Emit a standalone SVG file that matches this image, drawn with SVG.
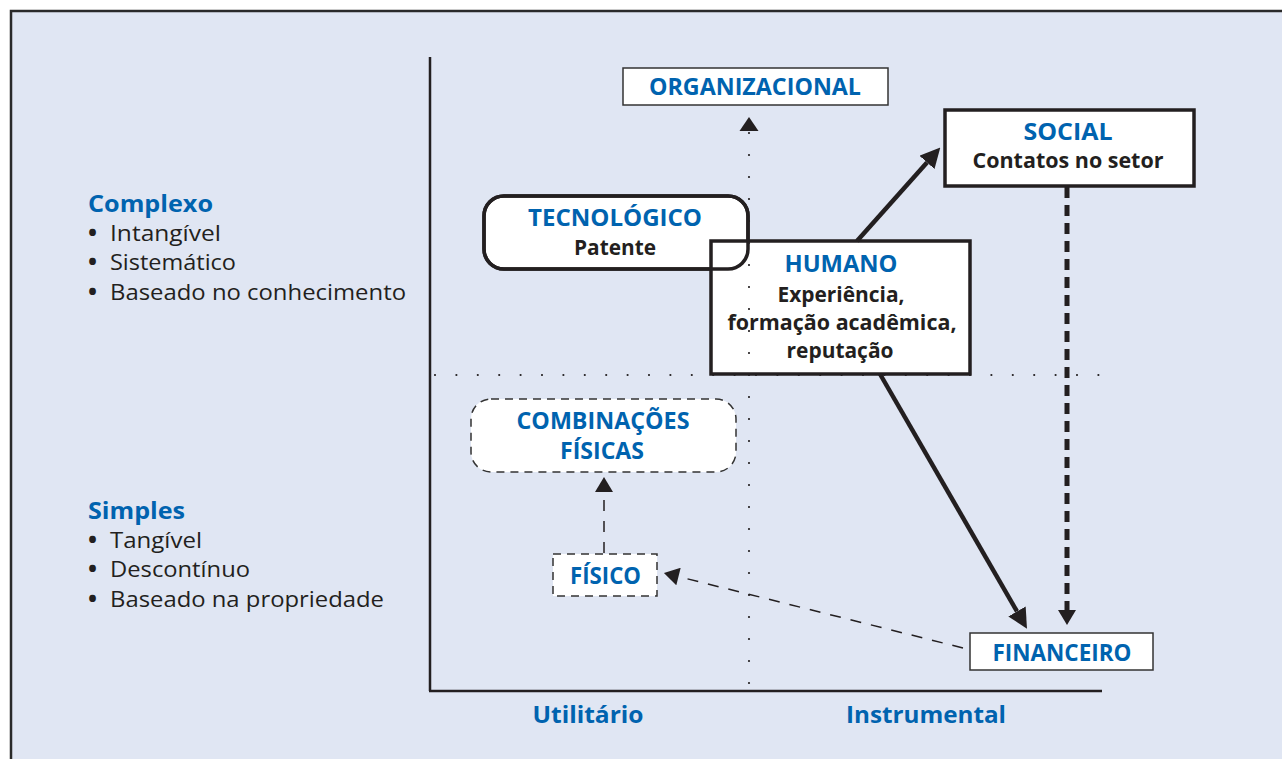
<svg xmlns="http://www.w3.org/2000/svg" width="1282" height="759" viewBox="0 0 1282 759">
<style>
text{font-family:"Open Sans","Liberation Sans",sans-serif;}
.h{font-weight:700;fill:#0063AF;font-size:22.5px;}
.b{font-weight:700;fill:#231F20;font-size:22px;}
.r{font-weight:400;fill:#231F20;font-size:22px;}
.c{text-anchor:middle;}
.bl{font-weight:700;font-size:24px;}
.thin{fill:#fff;stroke:#333;stroke-width:1.5;}
.thick{fill:#fff;stroke:#231F20;stroke-width:3.5;}
.dbox{fill:#fff;stroke:#333;stroke-width:1.5;stroke-dasharray:8 6;}
.dot{stroke:#231F20;stroke-width:2.2;stroke-linecap:round;fill:none;}
</style>
<defs>
<marker id="ah" markerUnits="userSpaceOnUse" markerWidth="20" markerHeight="20" viewBox="0 0 18 18" refX="0" refY="9" orient="auto">
<path d="M0,0 L18,9 L0,18 z" fill="#231F20"/>
</marker>
<marker id="ahs" markerUnits="userSpaceOnUse" markerWidth="16" markerHeight="18" viewBox="0 0 15 18" refX="0" refY="9" orient="auto">
<path d="M0,0 L15,9 L0,18 z" fill="#231F20"/>
</marker>
</defs>
<rect x="11" y="11" width="1300" height="800" fill="#E0E6F3" stroke="#2a2a2a" stroke-width="2.5"/>

<g id="labels">
<text class="h" x="88" y="212" textLength="125" lengthAdjust="spacingAndGlyphs">Complexo</text>
<text class="r" y="241"><tspan class="bl" x="88">•</tspan><tspan x="110" textLength="111" lengthAdjust="spacingAndGlyphs">Intangível</tspan></text>
<text class="r" y="270"><tspan class="bl" x="88">•</tspan><tspan x="110" textLength="126" lengthAdjust="spacingAndGlyphs">Sistemático</tspan></text>
<text class="r" y="300"><tspan class="bl" x="88">•</tspan><tspan x="110" textLength="296" lengthAdjust="spacingAndGlyphs">Baseado no conhecimento</tspan></text>
<text class="h" x="88" y="519" textLength="97" lengthAdjust="spacingAndGlyphs">Simples</text>
<text class="r" y="548"><tspan class="bl" x="88">•</tspan><tspan x="110" textLength="92" lengthAdjust="spacingAndGlyphs">Tangível</tspan></text>
<text class="r" y="577"><tspan class="bl" x="88">•</tspan><tspan x="110" textLength="140" lengthAdjust="spacingAndGlyphs">Descontínuo</tspan></text>
<text class="r" y="607"><tspan class="bl" x="88">•</tspan><tspan x="110" textLength="274" lengthAdjust="spacingAndGlyphs">Baseado na propriedade</tspan></text>
<text class="h c" x="588" y="723" textLength="111" lengthAdjust="spacingAndGlyphs">Utilitário</text>
<text class="h c" x="926" y="723" textLength="160" lengthAdjust="spacingAndGlyphs">Instrumental</text>
</g>

<g id="axes">
<line x1="430" y1="57" x2="430" y2="691" stroke="#231F20" stroke-width="2.5"/>
<line x1="429" y1="691" x2="1102" y2="691" stroke="#231F20" stroke-width="2.5"/>
</g>

<g id="organizacional">
<rect class="thin" x="623" y="68" width="265" height="37"/>
<text class="h c" x="755" y="95" textLength="212" lengthAdjust="spacingAndGlyphs">ORGANIZACIONAL</text>
</g>

<g id="tecnologico">
<rect class="thick" x="484" y="196" width="264" height="73" rx="20"/>
</g>

<g id="humano">
<rect class="thick" x="711" y="241" width="259" height="133"/>
</g>

<g id="social">
<rect class="thick" x="945" y="110" width="249" height="76"/>
<text class="h c" x="1068" y="140" textLength="89" lengthAdjust="spacingAndGlyphs">SOCIAL</text>
<text class="b c" x="1068" y="168" textLength="191" lengthAdjust="spacingAndGlyphs">Contatos no setor</text>
</g>

<g id="combinacoes">
<rect class="dbox" x="471" y="399" width="265" height="73" rx="20" stroke-dasharray="10 6"/>
<text class="h c" x="603" y="429" textLength="173" lengthAdjust="spacingAndGlyphs">COMBINAÇÕES</text>
<text class="h c" x="602" y="459" textLength="84" lengthAdjust="spacingAndGlyphs">FÍSICAS</text>
</g>

<g id="fisico">
<rect class="dbox" x="553" y="554" width="104" height="42"/>
<text class="h c" x="605.5" y="584" textLength="71" lengthAdjust="spacingAndGlyphs">FÍSICO</text>
</g>

<g id="financeiro">
<rect class="thin" x="970" y="633" width="183" height="37"/>
<text class="h c" x="1062" y="661" textLength="139" lengthAdjust="spacingAndGlyphs">FINANCEIRO</text>
</g>

<g id="connectors">
<line class="dot" x1="749" y1="133" x2="749" y2="690" stroke-dasharray="0 22"/>
<path d="M739.5,131 L749,117 L758.5,131 z" fill="#231F20"/>
<line class="dot" x1="435" y1="375" x2="1099" y2="375" stroke-dasharray="0 21.4"/>
<line x1="857" y1="241" x2="927" y2="162.4" stroke="#231F20" stroke-width="4.5" marker-end="url(#ah)"/>
<line x1="880" y1="374" x2="1017" y2="611.4" stroke="#231F20" stroke-width="4.5" marker-end="url(#ah)"/>
<line x1="1067" y1="187" x2="1067" y2="610" stroke="#231F20" stroke-width="5" stroke-dasharray="11 7" marker-end="url(#ahs)"/>
<line x1="963" y1="648" x2="678.5" y2="576.6" stroke="#231F20" stroke-width="1.5" stroke-dasharray="11 10" marker-end="url(#ahs)"/>
<line x1="604" y1="553" x2="604" y2="492" stroke="#231F20" stroke-width="1.5" stroke-dasharray="11 10" marker-end="url(#ahs)"/>
</g>

<g id="tecnologico-overlay">
<rect x="484" y="196" width="264" height="73" rx="20" fill="none" stroke="#231F20" stroke-width="3.5"/>
<text class="h c" x="615" y="226" textLength="174" lengthAdjust="spacingAndGlyphs">TECNOLÓGICO</text>
<text class="b c" x="615" y="255" textLength="82" lengthAdjust="spacingAndGlyphs">Patente</text>
</g>

<g id="humano-text">
<text class="h c" x="841" y="272" textLength="113" lengthAdjust="spacingAndGlyphs">HUMANO</text>
<text class="b c" x="841" y="302" textLength="127" lengthAdjust="spacingAndGlyphs">Experiência,</text>
<text class="b c" x="842" y="330" textLength="229" lengthAdjust="spacingAndGlyphs">formação acadêmica,</text>
<text class="b c" x="840" y="358" textLength="107" lengthAdjust="spacingAndGlyphs">reputação</text>
</g>
</svg>
